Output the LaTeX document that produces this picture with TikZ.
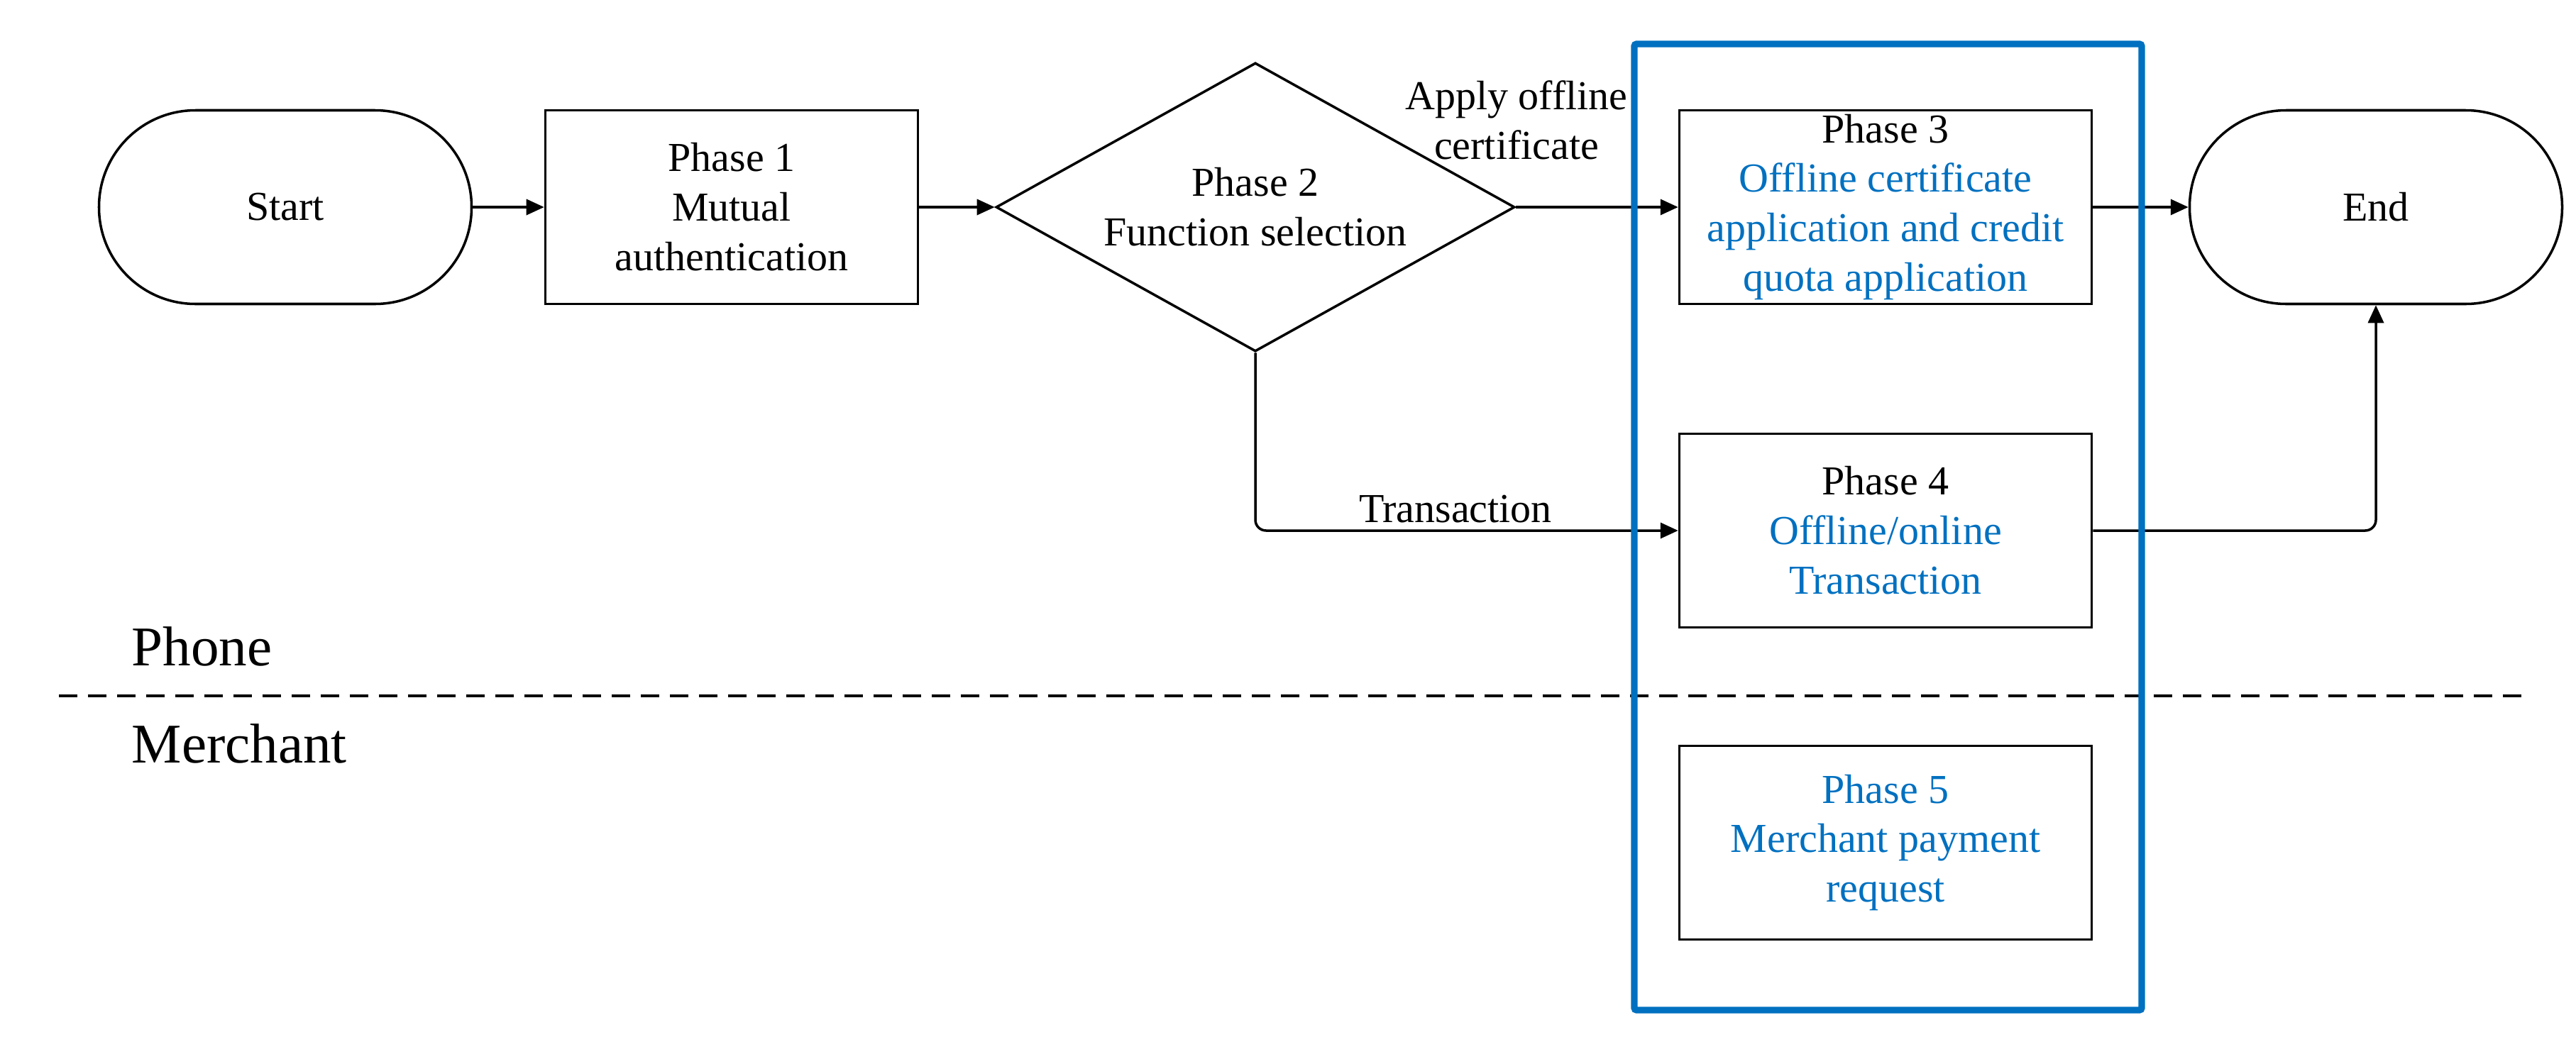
\documentclass[tikz,border=0pt]{standalone}
\usepackage{fontspec}
\setmainfont{Liberation Serif}
\usetikzlibrary{shapes.geometric,arrows.meta}
\definecolor{phaseblue}{HTML}{0070C0}
\newcommand{\bluetext}[1]{\textcolor{phaseblue}{#1}}
\begin{document}
\begin{tikzpicture}[
        every node/.style={font=\fontsize{16.5}{19.9}\selectfont, align=center},
        terminal/.style={draw, line width=1pt, rounded corners=1.36cm, minimum width=5.25cm, minimum height=2.73cm},
        stepbox/.style={draw, line width=1pt, minimum width=5.25cm, minimum height=2.73cm, inner sep=0pt},
        phasebox/.style={stepbox, minimum width=5.81cm},
        decision/.style={draw, diamond, shape aspect=1.796, line width=1pt, minimum width=7.31cm, minimum height=4.07cm, inner sep=0pt},
        flow/.style={line width=1pt, rounded corners=0.15cm, -{Triangle[length=0.25cm,width=0.22cm]}},
        lane/.style={font=\fontsize{22.5}{26}\selectfont, anchor=base west, inner sep=0pt}
    ]
    \useasboundingbox (0,0) rectangle (36.30,-14.69);
    % top row
    \node[terminal] (start) at (4.02,-2.92) {Start};
    \node[stepbox] (ph1) at (10.31,-2.92) {Phase 1\\Mutual\\authentication};
    \node[decision] (ph2) at (17.69,-2.92) {Phase 2\\Function selection};
    \node[phasebox] (ph3) at (26.57,-2.92) {Phase 3\\\bluetext{Offline certificate}\\\bluetext{application and credit}\\\bluetext{quota application}};
    \node[terminal] (end) at (33.48,-2.92) {End};
    % lower boxes
    \node[phasebox] (ph4) at (26.57,-7.48) {Phase 4\\\bluetext{Offline/online}\\\bluetext{Transaction}};
    \node[phasebox] (ph5) at (26.57,-11.88) {\bluetext{Phase 5}\\\bluetext{Merchant payment}\\\bluetext{request}};
    % edge labels
    \node (applylbl) at (21.37,-1.69) {Apply offline\\certificate};
    \node (translbl) at (20.51,-7.18) {Transaction};
    % lanes
    \node[lane] (phone) at (1.85,-9.38) {Phone};
    \node[lane] (merchant) at (1.85,-10.75) {Merchant};
    \draw[line width=1pt, dash pattern=on 0.26cm off 0.15cm] (0.83,-9.81) -- (35.53,-9.81);
    % connectors
    \draw[flow] (start) -- (ph1);
    \draw[flow] (ph1) -- (ph2);
    \draw[flow] (ph2) -- (ph3);
    \draw[flow] (ph3) -- (end);
    \draw[flow] (ph2.south) |- (ph4.west);
    \draw[flow] (ph4.east) -| (end.south);
    % offline phases frame
    \draw[phaseblue, line width=2.6pt, rounded corners=0.03cm] (23.03,-0.62) rectangle (30.18,-14.24);
\end{tikzpicture}
\end{document}
